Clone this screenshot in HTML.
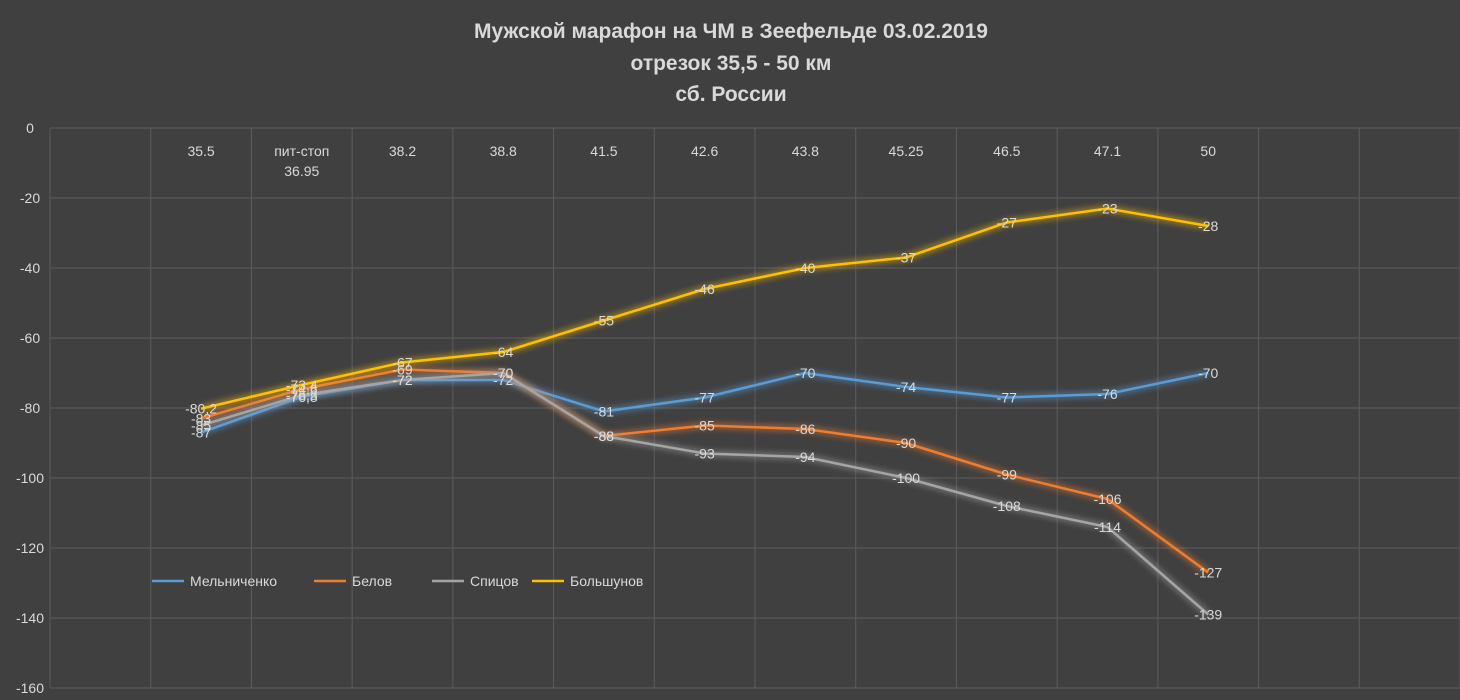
<!DOCTYPE html>
<html><head><meta charset="utf-8"><style>
body{margin:0;background:#3a3a3a;}
svg{display:block;font-family:"Liberation Sans","Noto Sans CJK SC",sans-serif;}
</style></head><body>
<svg id="chart" width="1460" height="700">
<rect x="0" y="0" width="1460" height="700" fill="#404040"/>
<defs><filter id="glow" x="-10%" y="-10%" width="120%" height="120%"><feGaussianBlur stdDeviation="3"/></filter></defs>
<g id="title" fill="#d9d9d9" font-size="21" font-weight="bold" text-anchor="middle">
<text x="731" y="38">Мужской марафон на ЧМ в Зеефельде 03.02.2019</text>
<text x="731" y="70">отрезок 35,5 - 50 км</text>
<text x="731" y="101">сб. России</text>
</g>
<g id="grid"></g><g id="yaxis"></g><g id="xaxis"></g><g id="series"></g><g id="labels"></g><g id="legend"></g>
</svg>
<script>
const categories=["35.5","пит-стоп|36.95","38.2","38.8","41.5","42.6","43.8","45.25","46.5","47.1","50"];
const yTicks=[0,-20,-40,-60,-80,-100,-120,-140,-160];
const melnichenko=[-87,-76.8,-72,-72,-81,-77,-70,-74,-77,-76,-70];
const belov=[-83,-74.6,-69,-70,-88,-85,-86,-90,-99,-106,-127];
const spitsov=[-85,-76.3,-72,-70,-88,-93,-94,-100,-108,-114,-139];
const bolshunov=[-80.2,-73.4,-67,-64,-55,-46,-40,-37,-27,-23,-28];
const seriesNames=["Мельниченко","Белов","Спицов","Большунов"];
const ns="http://www.w3.org/2000/svg";
const L=50,R=1460,T=128,B=688,ncol=14,cw=(R-L)/ncol;
const y=v=>T+(0-v)/160*(B-T);
const x=i=>L+cw*(i+1.5);
function mk(tag,attrs,parent,text){const e=document.createElementNS(ns,tag);for(const k in attrs)e.setAttribute(k,attrs[k]);if(text!==undefined)e.textContent=text;parent.appendChild(e);return e;}
const grid=document.getElementById('grid');
yTicks.forEach(t=>{
 const l=mk('line',{x1:L,x2:R,y1:y(t),y2:y(t),stroke:'#5c5c5c','stroke-width':1},grid);
 
 
 const tx=mk('text',{x:30,y:y(t)+5,fill:'#d9d9d9','font-size':14,'text-anchor':'middle'},document.getElementById('yaxis'),String(t));
 
 
});
for(let i=0;i<=ncol;i++){
 const l=mk('line',{x1:L+cw*i,x2:L+cw*i,y1:T,y2:B,stroke:'#5c5c5c','stroke-width':1},grid);
 
 
}
categories.forEach((c,i)=>{
 c.split('|').forEach((p,j)=>{
  const tx=mk('text',{x:x(i),y:156+j*20,fill:'#d9d9d9','font-size':14,'text-anchor':'middle'},document.getElementById('xaxis'),p);
  
  
 });
});
const data=[melnichenko,belov,spitsov,bolshunov];
const colors=["#5b9bd5","#ed7d31","#a5a5a5","#ffc000"];
const sg=document.getElementById('series'),lg=document.getElementById('labels');
data.forEach((d,s)=>{
 const pts=d.map((v,i)=>x(i)+','+y(v)).join(' ');
 const g=mk('polyline',{points:pts,fill:'none',stroke:colors[s],'stroke-width':7,opacity:0.45,filter:'url(#glow)'},sg);
 
 
 const p=mk('polyline',{points:pts,fill:'none',stroke:colors[s],'stroke-width':2.5},sg);
 
 
 d.forEach((v,i)=>{
  const tx=mk('text',{x:x(i),y:y(v)+5,fill:'#d9d9d9','font-size':14,'text-anchor':'middle'},lg,String(v).replace('.',','));
  
  
 });
});
const leg=document.getElementById('legend');
const lx=[152,314,432,532];
seriesNames.forEach((n,s)=>{
 const l=mk('line',{x1:lx[s],x2:lx[s]+32,y1:581,y2:581,stroke:colors[s],'stroke-width':2.5},leg);
 
 
 const t=mk('text',{x:lx[s]+38,y:586,fill:'#d9d9d9','font-size':14},leg,n);
 
 
});
</script>
</body></html>
